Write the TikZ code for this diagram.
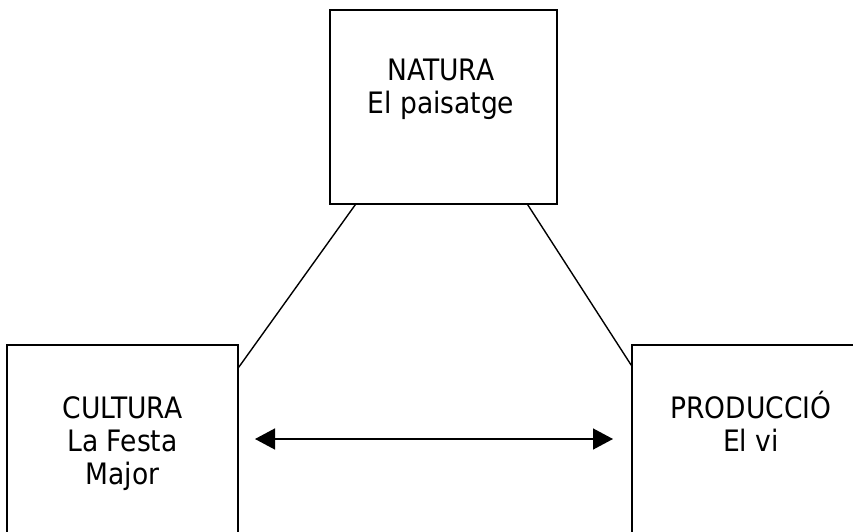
\documentclass[tikz,border=0pt]{standalone}
\usepackage{fontspec}
\setmainfont{DejaVu Sans Condensed}
\usetikzlibrary{arrows.meta,calc}
\tikzset{
  box/.style={draw=black, line width=1.4pt, rectangle, inner sep=0pt},
  lbl/.style={align=center, font=\fontsize{29.5}{33}\selectfont, inner sep=0pt},
  link/.style={draw=black, line width=1.4pt},
  dbl/.style={draw=black, line width=1.4pt, {Triangle[length=20pt,width=21pt]}-{Triangle[length=20pt,width=21pt]}}
}
\begin{document}
\begin{tikzpicture}[x=1pt,y=1pt]
\useasboundingbox (0,0) rectangle (853,531);
\clip (0,0) rectangle (853,531);
\node[box, minimum width=227pt, minimum height=194pt] (top) at (443.5,424) {};
\node[box, minimum width=231pt, minimum height=200pt] (left) at (122.5,86) {};
\node[box, minimum width=240pt, minimum height=200pt] (right) at (752,86) {};
\node[lbl] (toptxt) at (441,442) {NATURA\\El paisatge};
\node[lbl] (lefttxt) at (122.5,87) {CULTURA\\La Festa\\Major};
\node[lbl] (righttxt) at (751,110) {PRODUCCIÓ\\El vi};
\draw[link] ($(top.south west)+(26,0)$) -- ($(left.north east)+(0,-23)$);
\draw[link] ($(top.south east)+(-30,0)$) -- ($(right.north west)+(0,-21)$);
\coordinate (a1) at (255,92);
\coordinate (a2) at (613,92);
\draw[dbl] (a1) -- (a2);
\end{tikzpicture}
\end{document}
